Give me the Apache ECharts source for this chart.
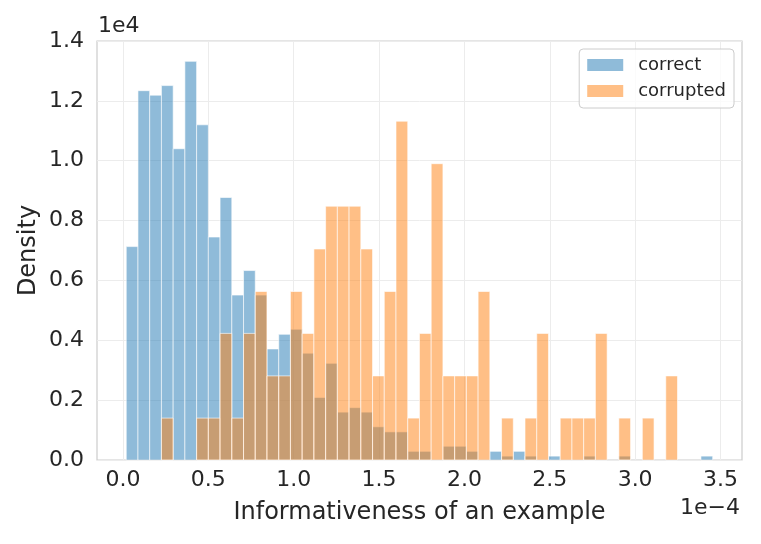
<!DOCTYPE html>
<html>
<head>
<meta charset="utf-8">
<script src="https://cdn.jsdelivr.net/npm/echarts@6/dist/echarts.min.js"></script>
<style>html,body{margin:0;padding:0;background:#fff}#c{width:761px;height:544px}</style>
</head>
<body>
<div id="c"></div>
<script>
// Histogram bins (x in units of 1e-4), shared by both series
const binStart = 0.0193;
const binWidth = 0.0687;
// Density values (units of 1e4), one per bin (50 bins)
const correctDensity = [
  0.713, 1.234, 1.219, 1.251, 1.040, 1.332, 1.120, 0.745, 0.877, 0.551,
  0.633, 0.551, 0.371, 0.420, 0.437, 0.357, 0.209, 0.323, 0.160, 0.175,
  0.160, 0.111, 0.094, 0.094, 0.029, 0.029, 0, 0.046, 0.046, 0.029,
  0, 0.029, 0.013, 0.029, 0.013, 0, 0.013, 0, 0, 0.013,
  0, 0, 0.013, 0, 0, 0, 0, 0, 0, 0.013
];
const corruptedDensity = [
  0, 0, 0, 0.140, 0, 0, 0.140, 0.140, 0.423, 0.140,
  0.423, 0.563, 0.281, 0.281, 0.563, 0.423, 0.705, 0.848, 0.848, 0.848,
  0.705, 0.281, 0.563, 1.132, 0.140, 0.423, 0.990, 0.281, 0.281, 0.281,
  0.563, 0, 0.140, 0, 0.140, 0.423, 0, 0.140, 0.140, 0.140,
  0.423, 0, 0.140, 0, 0.140, 0, 0.281, 0, 0, 0
];
const xTicks = [0.0, 0.5, 1.0, 1.5, 2.0, 2.5, 3.0, 3.5];
const yTicks = [0.0, 0.2, 0.4, 0.6, 0.8, 1.0, 1.2, 1.4];
const seriesNames = ['correct', 'corrupted'];

function toBins(vals) {
  const out = [];
  vals.forEach((v, i) => {
    if (v > 0) out.push([binStart + i * binWidth, binStart + (i + 1) * binWidth, v]);
  });
  return out;
}

const colors = ['rgba(31,119,180,0.5)', 'rgba(255,127,14,0.5)'];
function makeRender(color) {
  return function (params, api) {
    const x0 = api.value(0), x1 = api.value(1), y = api.value(2);
    const p0 = api.coord([x0, y]);
    const p1 = api.coord([x1, 0]);
    return {
      type: 'rect',
      shape: { x: p0[0], y: p0[1], width: p1[0] - p0[0], height: p1[1] - p0[1] },
      style: { fill: color, stroke: 'rgba(255,255,255,0.6)', lineWidth: 1 }
    };
  };
}

const FONT = 'DejaVu Sans';
const TXT = '#262626';
const chart = echarts.init(document.getElementById('c'), null, { renderer: 'canvas' });
chart.setOption({
  animation: false,
  backgroundColor: '#fff',
  textStyle: { fontFamily: FONT },
  grid: { left: 97, right: 19, top: 41, bottom: 84, show: true, borderColor: '#cccccc', borderWidth: 1.2, backgroundColor: 'transparent' },
  xAxis: {
    type: 'value', min: -0.152, max: 3.626,
    name: 'Informativeness of an example', nameLocation: 'middle', nameGap: 41,
    nameTextStyle: { fontFamily: FONT, fontSize: 24, color: TXT },
    axisLine: { show: false }, axisTick: { show: false, customValues: xTicks },
    axisLabel: { customValues: xTicks, formatter: v => v.toFixed(1), fontFamily: FONT, fontSize: 22, color: TXT, margin: 9 },
    splitLine: { show: true, lineStyle: { color: '#ececec', width: 1 } }
  },
  yAxis: {
    type: 'value', min: 0, max: 1.4,
    name: 'Density', nameLocation: 'middle', nameGap: 56, nameMoveOverlap: false,
    nameTextStyle: { fontFamily: FONT, fontSize: 24, color: TXT },
    axisLine: { show: false }, axisTick: { show: false, customValues: yTicks },
    axisLabel: { customValues: yTicks, formatter: v => v.toFixed(1), fontFamily: FONT, fontSize: 22, color: TXT, margin: 13 },
    splitLine: { show: true, lineStyle: { color: '#ececec', width: 1 } }
  },
  legend: {
    orient: 'vertical', right: 27, top: 49,
    data: seriesNames,
    icon: 'rect', itemWidth: 36, itemHeight: 12, itemGap: 8,
    backgroundColor: 'rgba(255,255,255,0.8)', borderColor: '#cccccc', borderWidth: 1, borderRadius: 4,
    padding: [7, 8, 8, 8],
    textStyle: { fontFamily: FONT, fontSize: 18, color: TXT, padding: [0, 0, 0, 10], lineHeight: 18 }
  },
  graphic: [
    { type: 'text', left: 98, top: 15, style: { text: '1e4', font: '22px "DejaVu Sans"', fill: TXT } },
    { type: 'text', right: 21, top: 497, style: { text: '1e\u22124', font: '22px "DejaVu Sans"', fill: TXT } }
  ],
  series: [
    { name: seriesNames[0], type: 'custom', renderItem: makeRender(colors[0]), itemStyle: { color: colors[0] }, encode: { x: [0, 1], y: 2 }, data: toBins(correctDensity) },
    { name: seriesNames[1], type: 'custom', renderItem: makeRender(colors[1]), itemStyle: { color: colors[1] }, encode: { x: [0, 1], y: 2 }, data: toBins(corruptedDensity) }
  ]
});
</script>
</body>
</html>
